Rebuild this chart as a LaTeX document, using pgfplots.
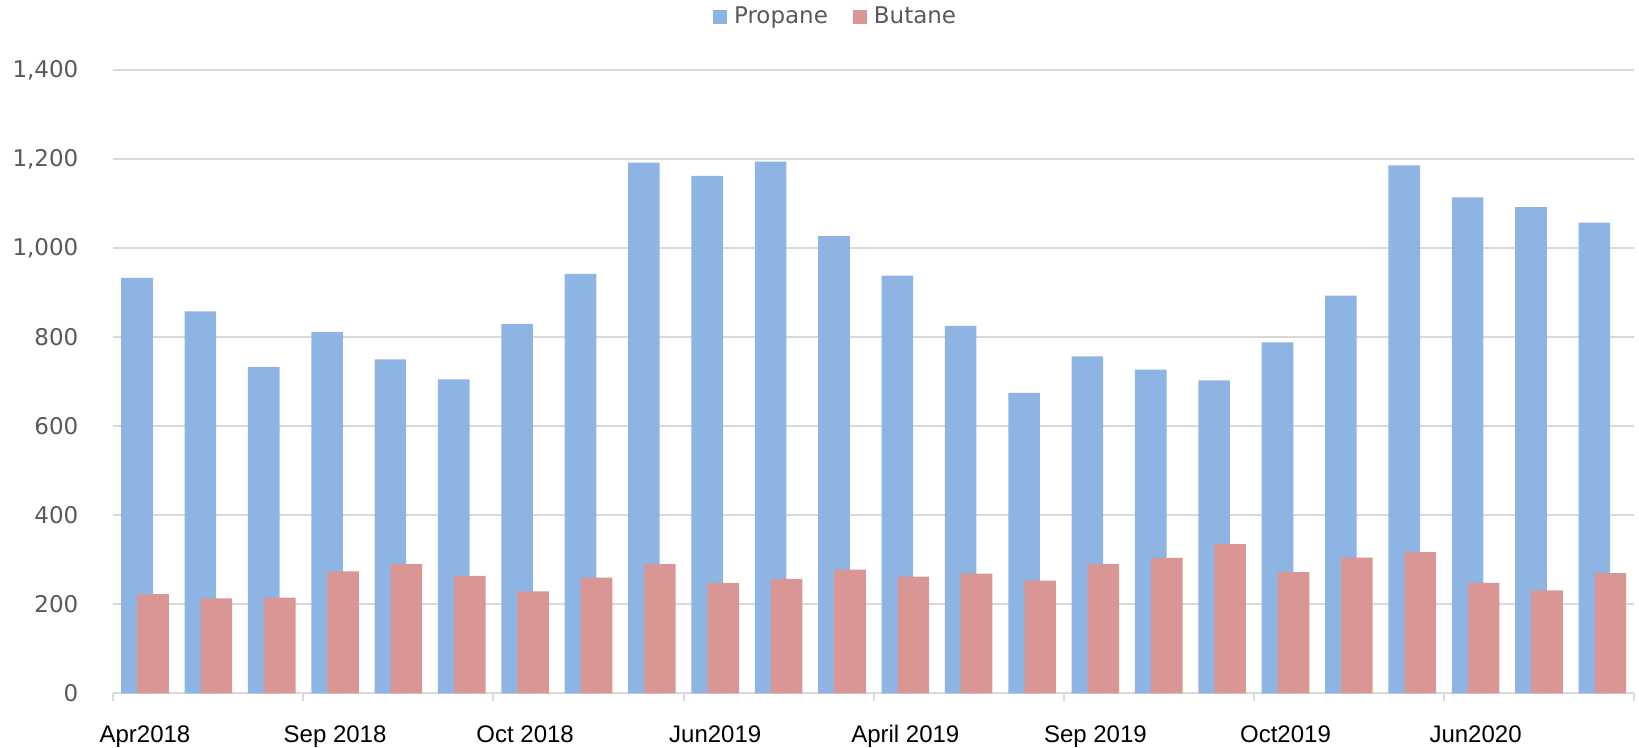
\documentclass[border=0pt]{standalone}
\usepackage{fontspec}
\setmainfont{Liberation Sans}
\newfontfamily\dejavu{DejaVu Sans}
\usepackage{pgfplots}
\pgfplotsset{compat=1.18}
\definecolor{propane}{HTML}{8EB4E3}
\definecolor{butane}{HTML}{D99694}
\definecolor{gridc}{HTML}{D9D9D9}
\definecolor{labc}{HTML}{595959}
\begin{document}
\begin{tikzpicture}
\begin{axis}[
  at={(0,0)}, anchor=south west,
  scale only axis, width=760.35pt, height=311.65pt,
  xmin=-0.5, xmax=23.5, ymin=0, ymax=1400,
  ybar, bar width=15.8pt,
  axis x line*=bottom, axis y line*=left,
  x axis line style={gridc, line width=1pt},
  y axis line style={draw=none},
  ymajorgrids, grid style={gridc, line width=1pt},
  ytick={0,200,...,1400},
  ytick style={draw=none},
  yticklabel style={font=\dejavu\fontsize{11.5}{13}\selectfont, text=labc, inner sep=0pt, xshift=-13pt},
  /pgf/number format/assume math mode=true,
  /pgf/number format/1000 sep={,},
  xtick={0,3,...,21},
  xticklabels={Apr2018, Sep 2018, Oct 2018, Jun2019, April 2019, Sep 2019, Oct2019, Jun2020},
  xticklabel style={font=\fontsize{12}{14}\selectfont, text=black, anchor=base, inner sep=0pt, yshift=-20.5pt},
  major x tick style={draw=none},
  minor xtick={-0.5,2.5,...,23.5},
  minor tick length=4pt, tick align=outside,
  minor x tick style={gridc, line width=1pt},
  legend style={draw=none, fill=none, at={(0.4743,1.085)}, anchor=center,
    legend columns=2, font=\dejavu\fontsize{11.5}{13}\selectfont, text=labc,
    /tikz/every odd column/.append style={column sep=3.5pt},
    /tikz/every even column/.append style={column sep=12.5pt},
    nodes={inner sep=0pt}},
  clip=false,
]
\addplot[fill=propane, draw=none, bar shift=-4pt,
  legend image code/.code={\fill[propane] (0pt,-3.5pt) rectangle (7pt,3.5pt);}]
  coordinates {
  (0,933) (1,858) (2,733) (3,811) (4,750) (5,705) (6,830) (7,942)
  (8,1192) (9,1162) (10,1194) (11,1027) (12,938) (13,825) (14,675) (15,757)
  (16,727) (17,703) (18,788) (19,893) (20,1186) (21,1114) (22,1092) (23,1057)};
\addlegendentry{Propane}
\addplot[fill=butane, draw=none, bar shift=4pt,
  legend image code/.code={\fill[butane] (0pt,-3.5pt) rectangle (7pt,3.5pt);}]
  coordinates {
  (0,223) (1,213) (2,215) (3,274) (4,290) (5,264) (6,229) (7,260)
  (8,290) (9,248) (10,257) (11,278) (12,262) (13,269) (14,253) (15,290)
  (16,304) (17,335) (18,272) (19,305) (20,317) (21,248) (22,231) (23,270)};
\addlegendentry{Butane}
\end{axis}
\pgfresetboundingbox
\path (-56.65pt,-27.35pt) rectangle (762.85pt,346.65pt);
\end{tikzpicture}
\end{document}
